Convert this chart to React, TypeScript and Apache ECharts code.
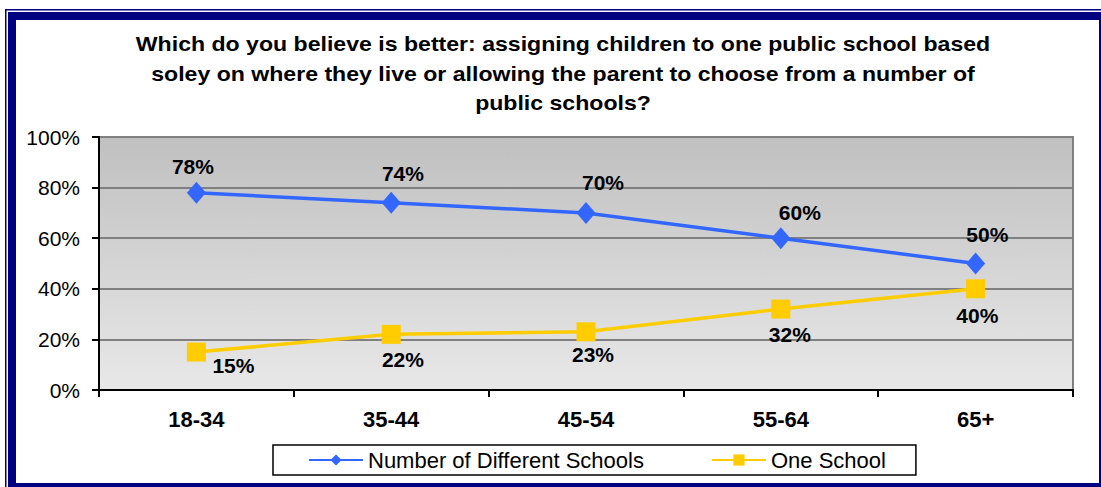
import React, { useEffect, useRef } from "react";
import * as echarts from "echarts";

const categories = ["18-34", "35-44", "45-54", "55-64", "65+"];
const differentSchools = [78, 74, 70, 60, 50];
const oneSchool = [15, 22, 23, 32, 40];
const seriesNames = ["Number of Different Schools", "One School"];
const titleLines = [
  "Which do you believe is better: assigning children to one public school based",
  "soley on where they live or allowing the parent to choose from a number of",
  "public schools?",
];

// label placement (style only)
const blueLabelOffsets = [[-3.5, -26], [11.7, -29], [17, -30.5], [19, -26], [11.7, -29.5]];
const yellowLabelOffsets = [[37, 13], [11.7, 24.7], [7, 22.7], [9, 25], [1.7, 27]];

const FONT = "'Liberation Sans', Arial, sans-serif";
const NAVY = "#000080";

export default function App() {
  const ref = useRef<HTMLDivElement>(null);
  useEffect(() => {
    document.body.style.margin = "0";
    const chart = echarts.init(ref.current!, null, { renderer: "svg" });
    const labelBase = {
      show: true,
      position: "inside",
      fontFamily: FONT,
      fontSize: 21,
      fontWeight: "bold",
      color: "#000",
      formatter: "{c}%",
    };
    chart.setOption({
      animation: false,
      backgroundColor: "#fff",
      graphic: [
        { type: "rect", z: -10, shape: { x: 5, y: 9, width: 1200, height: 600 }, style: { fill: NAVY } },
        { type: "rect", z: -9, shape: { x: 6.5, y: 10.5, width: 1200, height: 600 }, style: { fill: "#fff" } },
        { type: "rect", z: -8, shape: { x: 8, y: 12, width: 1200, height: 600 }, style: { fill: NAVY } },
        { type: "rect", z: -7, shape: { x: 16, y: 20, width: 1083, height: 463 }, style: { fill: "#fff" } },
        {
          type: "text",
          x: 563,
          y: 29.5,
          scaleX: 1.155,
          style: {
            text: titleLines.join("\n"),
            fontFamily: FONT,
            fontSize: 20,
            fontWeight: "bold",
            fill: "#000",
            align: "center",
            verticalAlign: "top",
            lineHeight: 29.5,
          },
        },
      ],
      grid: {
        left: 99,
        right: 28,
        top: 137,
        bottom: 97,
        show: true,
        borderColor: "#808080",
        borderWidth: 2,
        backgroundColor: {
          type: "linear",
          x: 0,
          y: 0,
          x2: 0,
          y2: 1,
          colorStops: [
            { offset: 0, color: "#c0c0c0" },
            { offset: 1, color: "#e8e8e8" },
          ],
        },
      },
      legend: {
        left: 273,
        top: 445,
        orient: "horizontal",
        data: seriesNames,
        borderColor: "#000",
        borderWidth: 1.5,
        borderRadius: 0,
        backgroundColor: "#fff",
        padding: [4, 30, 4, 35],
        itemGap: 67,
        itemWidth: 54,
        itemHeight: 14,
        textStyle: { fontFamily: FONT, fontSize: 22, color: "#000", lineHeight: 22 },
      },
      xAxis: {
        type: "category",
        data: categories,
        boundaryGap: true,
        axisLine: { lineStyle: { color: "#000", width: 2 } },
        axisTick: { show: true, length: 7, lineStyle: { color: "#000", width: 2 } },
        axisLabel: {
          margin: 18,
          fontFamily: FONT,
          fontSize: 22,
          fontWeight: "bold",
          color: "#000",
        },
        splitLine: { show: false },
      },
      yAxis: {
        type: "value",
        min: 0,
        max: 100,
        interval: 20,
        axisLine: { show: true, lineStyle: { color: "#000", width: 2 } },
        axisTick: { show: true, length: 7, lineStyle: { color: "#000", width: 2 } },
        axisLabel: {
          formatter: "{value}%",
          margin: 19,
          fontFamily: FONT,
          fontSize: 21,
          color: "#000",
        },
        splitLine: { show: true, lineStyle: { color: "#808080", width: 2 } },
      },
      series: [
        {
          name: seriesNames[1],
          type: "line",
          data: oneSchool.map((v, i) => ({ value: v, label: { offset: yellowLabelOffsets[i] } })),
          symbol: "rect",
          symbolSize: 19,
          itemStyle: { color: "#FFCC00" },
          lineStyle: { color: "#FFCC00", width: 3.5 },
          label: labelBase,
          z: 2,
        },
        {
          name: seriesNames[0],
          type: "line",
          data: differentSchools.map((v, i) => ({ value: v, label: { offset: blueLabelOffsets[i] } })),
          symbol: "diamond",
          symbolSize: [19, 22],
          itemStyle: { color: "#3366FF" },
          lineStyle: { color: "#3366FF", width: 3.5 },
          label: labelBase,
          z: 3,
        },
      ],
    });
    return () => chart.dispose();
  }, []);
  return <div ref={ref} style={{ width: 1101, height: 487 }} />;
}
